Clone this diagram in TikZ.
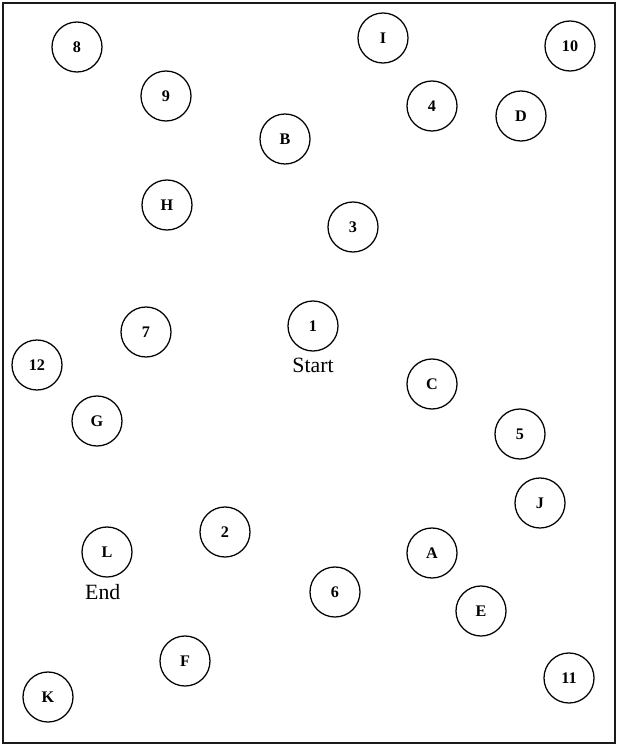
\documentclass[tikz,border=0pt]{standalone}
\usepackage{fontspec}
\setmainfont{Liberation Serif}
\usetikzlibrary{positioning}
\definecolor{frame}{HTML}{1A1A1A}

\begin{document}
\begin{tikzpicture}[x=0.025cm, y=-0.025cm,
  spot/.style={circle, draw=black, line width=0.9pt, minimum size=1.25cm,
    inner sep=0pt, font=\fontsize{11.5}{13}\selectfont\bfseries},
  tag/.style={font=\fontsize{15.5}{17}\selectfont, inner sep=1pt}]

% Page and frame
\useasboundingbox (0,0) rectangle (618,747);
\draw[frame, line width=1.1pt] (3,3) rectangle (615,743);

% Spots (name/x/y)
\foreach \n/\x/\y in {8/77/47, I/383/38, 10/570/46, 9/166/96, 4/432/106,
    D/521/116, B/285/139, H/167/205, 3/353/227, 7/146/332, 1/313/326,
    12/37/365, C/432/384, G/97/421, 5/520/434, J/540/503, 2/225/532,
    L/107/552, A/432/553, 6/335/592, E/481/611, F/185/661, 11/569/678,
    K/48/697} {
  \node[spot] (s\n) at (\x,\y) {\n};
}

% Start and end labels
\node[tag, below=3.5pt of s1] (start) {Start};
\node[tag, below=3.5pt of sL, xshift=-3pt] (end) {End};

\end{tikzpicture}
\end{document}
